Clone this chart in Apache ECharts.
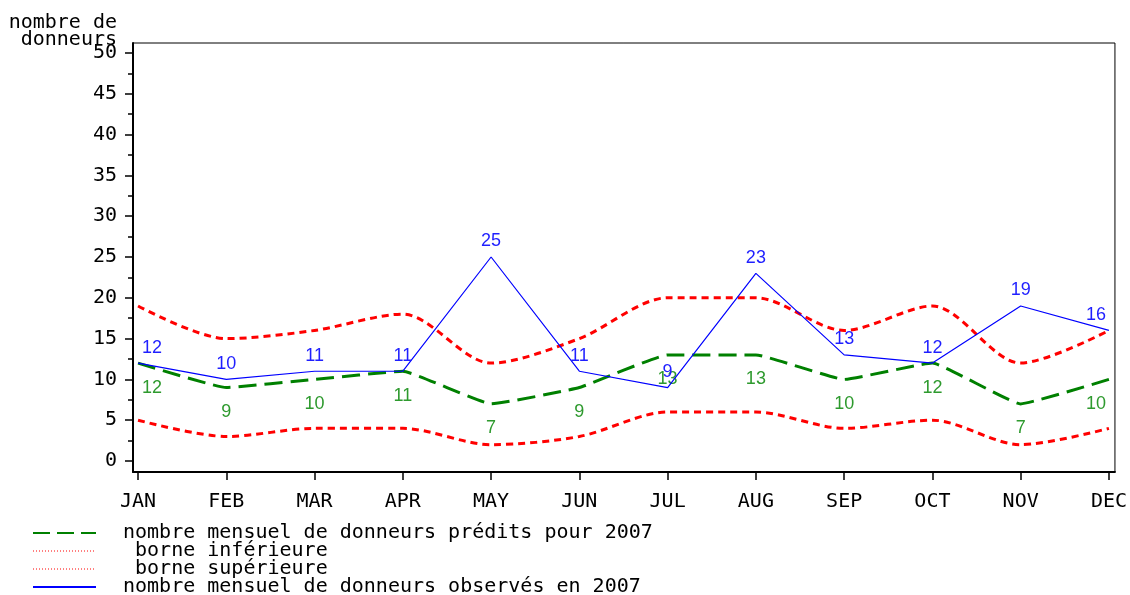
<!DOCTYPE html>
<html>
<head>
<meta charset="utf-8">
<script src="https://cdn.jsdelivr.net/npm/echarts@6/dist/echarts.min.js"></script>
<style>
  html, body { margin: 0; padding: 0; background: #fff; }
  #chart { width: 1130px; height: 595px; }
</style>
</head>
<body>
<div id="chart"></div>
<script>
// mois
const months = ["JAN", "FEB", "MAR", "APR", "MAY", "JUN", "JUL", "AUG", "SEP", "OCT", "NOV", "DEC"];
const yTicks = [0, 5, 10, 15, 20, 25, 30, 35, 40, 45, 50];
const yMinorTicks = [2.5, 7.5, 12.5, 17.5, 22.5, 27.5, 32.5, 37.5, 42.5, 47.5];

const predits = [12, 9, 10, 11, 7, 9, 13, 13, 10, 12, 7, 10];
const borneInf = [5, 3, 4, 4, 2, 3, 6, 6, 4, 5, 2, 4];
const borneSup = [19, 15, 16, 18, 12, 15, 20, 20, 16, 19, 12, 16];
const observes = [12, 10, 11, 11, 25, 11, 9, 23, 13, 12, 19, 16];

const names = [
  "nombre mensuel de donneurs prédits pour 2007",
  " borne inférieure",
  " borne supérieure",
  "nombre mensuel de donneurs observés en 2007"
];

const mono = "DejaVu Sans Mono";
const clear = "rgba(0,0,0,0)";

// décale les étiquettes des bords vers l'intérieur
function pts(arr) {
  return arr.map((v, i) => {
    const p = { value: [i, v] };
    if (i === 0) p.label = { offset: [14, 0] };
    if (i === arr.length - 1) p.label = { offset: [-13, 0] };
    return p;
  });
}

const chart = echarts.init(document.getElementById("chart"));
const option = {
  backgroundColor: "#fff",
  animation: false,
  graphic: [{
    type: "text",
    x: 117,
    y: 14,
    style: {
      text: "nombre de\ndonneurs",
      font: "20px 'DejaVu Sans Mono'",
      lineHeight: 17,
      align: "right",
      fill: "#000"
    }
  }],
  grid: {
    left: 133,
    right: 15,
    top: 43,
    bottom: 123,
    show: true,
    borderColor: "#000",
    borderWidth: 1,
    containLabel: false
  },
  legend: {
    orient: "vertical",
    left: 32,
    top: 523,
    height: 90,
    padding: 0,
    itemWidth: 63,
    itemHeight: 14,
    itemGap: -2,
    selectedMode: false,
    textStyle: {
      fontFamily: mono,
      fontSize: 20,
      color: "#000",
      padding: [0, 0, 0, 22]
    },
    data: [
      { name: names[0], itemStyle: { color: clear }, lineStyle: { color: "#008000", width: 2, type: [17, 7] } },
      { name: names[1], itemStyle: { color: clear }, lineStyle: { color: "#ff0000", width: 1, type: [1, 2] } },
      { name: names[2], itemStyle: { color: clear }, lineStyle: { color: "#ff0000", width: 1, type: [1, 2] } },
      { name: names[3], itemStyle: { color: clear }, lineStyle: { color: "#0000ff", width: 2 } }
    ]
  },
  xAxis: {
    type: "value",
    min: -0.057,
    max: 11.068,
    splitLine: { show: false },
    axisLine: { show: true, onZero: false, lineStyle: { color: "#000", width: 2 } },
    axisTick: { show: true, length: 8, customValues: months.map((m, i) => i), lineStyle: { color: "#000", width: 1.5 } },
    axisLabel: {
      customValues: months.map((m, i) => i),
      formatter: v => months[Math.round(v)],
      fontFamily: mono,
      fontSize: 20,
      color: "#000",
      margin: 20
    }
  },
  yAxis: [
    {
      type: "value",
      min: -1.348,
      max: 51.225,
      splitLine: { show: false },
      axisLine: { show: true, onZero: false, lineStyle: { color: "#000", width: 2 } },
      axisTick: { show: true, length: 8, customValues: yTicks, lineStyle: { color: "#000", width: 1.5 } },
      axisLabel: {
        customValues: yTicks,
        fontFamily: mono,
        fontSize: 20,
        color: "#000",
        margin: 16
      }
    },
    {
      type: "value",
      position: "left",
      min: -1.348,
      max: 51.225,
      splitLine: { show: false },
      axisLine: { show: false, onZero: false },
      axisTick: { show: true, length: 5, customValues: yMinorTicks, lineStyle: { color: "#000", width: 1.5 } },
      axisLabel: { show: false }
    }
  ],
  series: [
    {
      name: names[0],
      type: "line",
      data: pts(predits),
      smooth: 0.1,
      symbol: "circle",
      symbolSize: 1,
      lineStyle: { color: "#008000", width: 3, type: [18, 8] },
      itemStyle: { color: clear },
      label: {
        show: true,
        position: "bottom",
        distance: 15,
        formatter: p => String(p.value[1]),
        fontFamily: "Liberation Sans",
        fontSize: 18,
        color: "#2e9a2e"
      },
      z: 3
    },
    {
      name: names[1],
      type: "line",
      data: borneInf.map((v, i) => [i, v]),
      smooth: 0.3,
      symbol: "none",
      lineStyle: { color: "#ff0000", width: 3, type: [7, 5] },
      itemStyle: { color: clear },
      z: 2
    },
    {
      name: names[2],
      type: "line",
      data: borneSup.map((v, i) => [i, v]),
      smooth: 0.3,
      symbol: "none",
      lineStyle: { color: "#ff0000", width: 3, type: [7, 5] },
      itemStyle: { color: clear },
      z: 2
    },
    {
      name: names[3],
      type: "line",
      data: pts(observes),
      symbol: "circle",
      symbolSize: 1,
      lineStyle: { color: "#0000ff", width: 1.2 },
      itemStyle: { color: clear },
      label: {
        show: true,
        position: "top",
        distance: 6,
        formatter: p => String(p.value[1]),
        fontFamily: "Liberation Sans",
        fontSize: 18,
        color: "#1f1fff"
      },
      z: 4
    }
  ]
};
chart.setOption(option);
window.addEventListener("resize", () => chart.resize());
</script>
</body>
</html>
